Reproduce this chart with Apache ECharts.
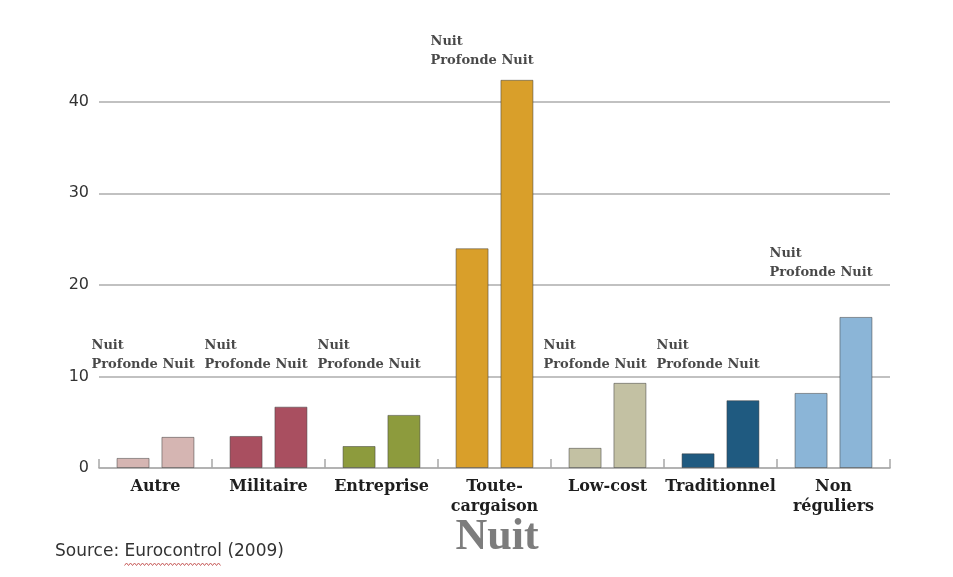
<!DOCTYPE html>
<html>
<head>
<meta charset="utf-8">
<script src="https://cdn.jsdelivr.net/npm/echarts@6/dist/echarts.min.js"></script>
<style>
  html, body { margin: 0; padding: 0; background: #fff; }
  #chart { width: 953px; height: 577px; }
</style>
</head>
<body>
<div id="chart"></div>
<script>
// Flight categories (x axis)
const categories = ['Autre', 'Militaire', 'Entreprise', 'Toute-\ncargaison', 'Low-cost', 'Traditionnel', 'Non\nréguliers'];
// Share of night movements per category
const nuit = [1.1, 3.5, 2.4, 24.0, 2.2, 1.6, 8.2];
// Share of deep-night movements per category
const profondeNuit = [3.4, 6.7, 5.8, 42.4, 9.3, 7.4, 16.5];
// Series names, also used for the small caption above each group
const seriesNames = ['Nuit', 'Profonde Nuit'];
// Y-axis tick values shown as labels
const yTicks = [0, 10, 20, 30, 40];

// One colour per category, shared by both bars of the group
const groupColors = ['#d5b5b2', '#a94f60', '#8d9b3d', '#d99f2a', '#c3c1a3', '#1f5a80', '#8bb5d7'];
// Level (in axis units) where each group caption sits
const captionLevels = [10.3, 10.3, 10.3, 43.5, 10.3, 10.3, 20.3];

const chart = echarts.init(document.getElementById('chart'), null, { renderer: 'canvas' });

const barStyle = {
  color: (p) => groupColors[p.dataIndex],
  borderColor: 'rgba(60,60,60,0.5)',
  borderWidth: 1
};

// Source line and a spell-check style squiggle under the source name
const sourceFont = '17px "DejaVu Sans"';
const sourceX = 55;
const measure = document.createElement('canvas').getContext('2d');
measure.font = sourceFont;
const squiggleStart = sourceX + measure.measureText('Source: ').width;
const squiggleEnd = squiggleStart + measure.measureText('Eurocontrol').width;
const squiggle = [];
for (let x = squiggleStart, k = 0; x <= squiggleEnd; x += 2, k++) {
  squiggle.push([x, k % 2 ? 563 : 565.5]);
}

chart.setOption({
  animation: false,
  backgroundColor: '#ffffff',
  grid: { left: 99, right: 63, top: 56, bottom: 109, containLabel: false },
  xAxis: {
    type: 'category',
    data: categories,
    boundaryGap: true,
    axisLine: { show: true, lineStyle: { color: '#9a9a9a', width: 1.5 } },
    axisTick: { show: true, inside: true, length: 9, lineStyle: { color: '#a8a8a8', width: 1.5 } },
    axisLabel: {
      interval: 0,
      margin: 9,
      color: '#1e1e1e',
      fontFamily: 'DejaVu Serif',
      fontWeight: 'bold',
      fontSize: 16,
      lineHeight: 20
    },
    splitLine: { show: false }
  },
  yAxis: {
    type: 'value',
    min: 0,
    max: 45,
    interval: 10,
    axisLine: { show: false },
    axisTick: { show: false },
    axisLabel: {
      margin: 10,
      color: '#333333',
      fontFamily: 'DejaVu Sans',
      fontSize: 16,
      showMaxLabel: false,
      formatter: (v) => (yTicks.indexOf(v) >= 0 ? String(v) : '')
    },
    splitLine: {
      show: true,
      showMinLine: false,
      showMaxLine: false,
      lineStyle: { color: '#adadad', width: 1.5 }
    }
  },
  series: [
    {
      name: seriesNames[0],
      type: 'bar',
      data: nuit,
      barWidth: 33,
      barGap: '36%',
      itemStyle: barStyle
    },
    {
      name: seriesNames[1],
      type: 'bar',
      data: profondeNuit,
      barWidth: 33,
      barGap: '36%',
      itemStyle: barStyle
    },
    {
      name: 'captions',
      type: 'scatter',
      symbolSize: 0,
      clip: false,
      silent: true,
      data: categories.map((c, i) => [i, captionLevels[i]]),
      label: {
        show: true,
        position: 'top',
        distance: 0,
        align: 'left',
        offset: [-64, 0],
        formatter: () => seriesNames.join('\n'),
        color: '#1a1a1a',
        fontFamily: 'DejaVu Serif',
        fontWeight: 'bold',
        fontSize: 13,
        lineHeight: 19
      }
    }
  ],
  graphic: [
    {
      type: 'text',
      x: 497,
      y: 538,
      style: {
        text: 'Nuit',
        fill: '#7d7d7d',
        font: 'bold 44px "Liberation Serif"',
        textAlign: 'center',
        textVerticalAlign: 'middle'
      }
    },
    {
      type: 'text',
      x: sourceX,
      y: 552,
      style: {
        text: 'Source: Eurocontrol (2009)',
        fill: '#333333',
        font: sourceFont,
        textAlign: 'left',
        textVerticalAlign: 'middle'
      }
    },
    {
      type: 'polyline',
      shape: { points: squiggle },
      style: { stroke: '#c9605e', lineWidth: 1, fill: null }
    }
  ]
});
</script>
</body>
</html>
